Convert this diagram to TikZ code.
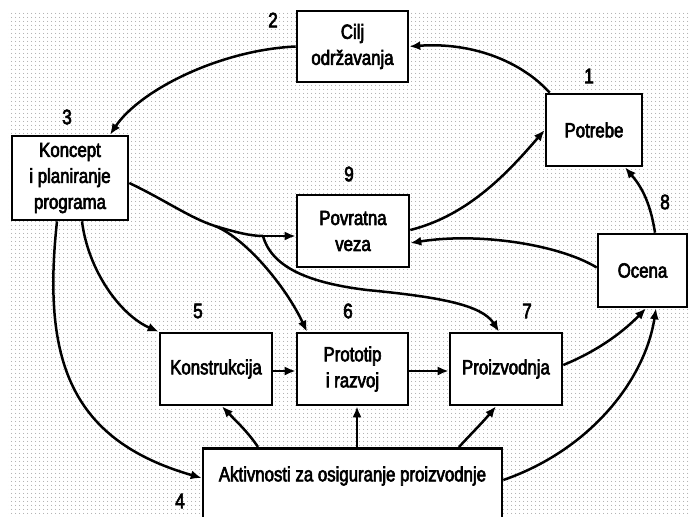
\documentclass[tikz,border=0pt]{standalone}
\usepackage{fontspec}
\setmainfont{Liberation Sans}[FakeStretch=0.82,FakeBold=3]
\usetikzlibrary{arrows.meta,patterns.meta}
\begin{document}
\begin{tikzpicture}[x=1pt,y=-1pt,
  box/.style={draw=black,line width=2.6pt,fill=white,align=center,
    inner sep=0pt,font=\fontsize{20.5}{26}\selectfont},
  num/.style={font=\fontsize{21}{21}\selectfont,inner sep=0pt},
  flow/.style={line width=2.5pt,-{Latex[length=11pt,width=9pt]}},
  plain/.style={line width=2.5pt}]
\useasboundingbox (0,0) rectangle (689,517);
% halftone backdrop
\fill[white] (0,0) rectangle (689,517);
\fill[pattern={Dots[radius=0.6pt,distance=4pt]},pattern color=black!40]
  (8,11) rectangle (689,517);

% boxes
\node[box,minimum width=111,minimum height=71] (cilj) at (352.5,46.5) {Cilj\\održavanja};
\node[box,minimum width=96,minimum height=72] (potrebe) at (594,130) {Potrebe};
\node[box,minimum width=116,minimum height=84] (koncept) at (70,178) {Koncept\\i planiranje\\programa};
\node[box,minimum width=112,minimum height=72] (povratna) at (353,231) {Povratna\\veza};
\node[box,minimum width=89,minimum height=73] (ocena) at (642.5,270.5) {Ocena};
\node[box,minimum width=112,minimum height=72] (konstr) at (216,369) {Konstrukcija};
\node[box,minimum width=111,minimum height=72] (proto) at (352.5,369) {Prototip\\i razvoj};
\node[box,minimum width=112,minimum height=72] (proizv) at (506,369) {Proizvodnja};
\node[box,minimum width=299,minimum height=80,anchor=north] (akt) at (352.5,447) {};
\node[font=\fontsize{20.5}{26}\selectfont,inner sep=0pt] (akttext) at (352.5,476)
  {Aktivnosti za osiguranje proizvodnje};

% step numbers
\node[num] (n1) at (589,76) {1};
\node[num] (n2) at (273,20) {2};
\node[num] (n3) at (67,117) {3};
\node[num] (n4) at (180,501) {4};
\node[num] (n5) at (198,311) {5};
\node[num] (n6) at (348,311) {6};
\node[num] (n7) at (527,311) {7};
\node[num] (n8) at (665,202) {8};
\node[num] (n9) at (349,174) {9};

% branch points on the line leaving the planning box
\coordinate (b1) at (215,226);
\coordinate (b2) at (263,236);

% outer cycle
\draw[flow] (potrebe.north west) ++(5,0)
  .. controls (520,60) and (470,42) .. (cilj.east);
\draw[flow] (cilj.west) .. controls (220,50) and (140,90) .. (koncept.north -| 110,0);
\draw[flow] (povratna.east) ++(0,-1) .. controls (470,215) and (510,170) .. (potrebe.west);
\draw[flow] (ocena.west) ++(0,-3) .. controls (560,245) and (480,232) .. (povratna.east |- 0,243);
\draw[flow] (ocena.north -| 655,0) .. controls (650,200) and (640,185) .. (potrebe.south -| 625,0);

% planning to feedback, with two branches
\draw[plain] (koncept.east) ++(0,5) .. controls (165,200) and (190,218) .. (b1)
  .. controls (235,232) and (250,236) .. (b2);
\draw[flow] (b2) -- (povratna.west |- b2);
\draw[flow] (b1) .. controls (245,238) and (285,285) .. (proto.north -| 307,0);
\draw[flow] (b2) .. controls (272,268) and (310,283) .. (367,290)
  .. controls (440,297) and (482,305) .. (proizv.north -| 499,0);

% planning down to design and to assurance
\draw[flow] (koncept.south -| 82,0) .. controls (88,270) and (120,315) .. (konstr.north west);
\draw[flow] (koncept.south -| 57,0) .. controls (42,360) and (70,440) .. (akt.west |- 0,478);

% main chain
\draw[flow] (konstr.east |- 0,371) -- (proto.west |- 0,371);
\draw[flow] (proto.east |- 0,371) -- (proizv.west |- 0,371);
\draw[flow] (proizv.east |- 0,365) .. controls (600,350) and (625,330) .. (ocena.south -| 646,0);
\draw[flow] (akt.east |- 0,480) .. controls (590,450) and (645,380) .. (ocena.south -| 656,0);

% assurance feeding the chain
\draw[flow] (akt.north -| 258,0) .. controls (248,432) and (235,420) .. (konstr.south -| 222,0);
\draw[flow] (akt.north -| 357,0) -- (proto.south -| 357,0);
\draw[flow] (akt.north -| 459,0) .. controls (470,435) and (483,422) .. (proizv.south -| 496,0);
\end{tikzpicture}
\end{document}
